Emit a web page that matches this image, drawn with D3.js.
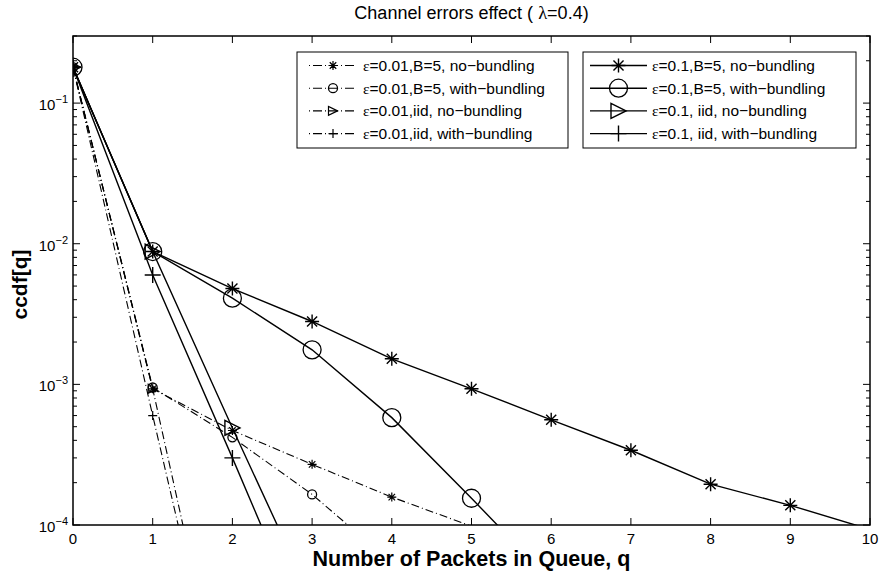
<!DOCTYPE html>
<html lang="en">
<head>
<meta charset="utf-8">
<title>Channel errors effect</title>
<script src="https://d3js.org/d3.v7.min.js"></script>
<style>
  body { margin: 0; background: #fff; }
  text { font-family: "Liberation Sans", Arial, sans-serif; fill: #000; }
</style>
</head>
<body>
<svg id="chart"></svg>
<script>

// queue length q
var queueLen = [0,1,2,3,4,5,6,7,8,9,10];

// eps = 0.01
var e001B5NoBundle   = [0.18, 0.00093, 0.00047, 0.00027, 0.000158, 0.000098];
var e001B5WithBundle = [0.18, 0.00095, 0.00042, 0.000165, 0.000054];
var e001IidNoBundle  = [0.18, 0.00093, 0.0000026];
var e001IidWithBundle= [0.18, 0.0006, 0.0000022];

// eps = 0.1
var e01B5NoBundle    = [0.18, 0.0088, 0.0048, 0.0028, 0.00152, 0.00093, 0.00056, 0.00034, 0.000195, 0.000138, 0.000093];
var e01B5WithBundle  = [0.18, 0.0088, 0.0041, 0.00176, 0.00058, 0.000155, 0.00004];
var e01IidNoBundle   = [0.18, 0.0088, 0.00049, 0.000029];
var e01IidWithBundle = [0.18, 0.006, 0.0003, 0.000014];

var seriesNames = [
  "\u03b5=0.01,B=5, no\u2212bundling",
  "\u03b5=0.01,B=5, with\u2212bundling",
  "\u03b5=0.01,iid, no\u2212bundling",
  "\u03b5=0.01,iid, with\u2212bundling",
  "\u03b5=0.1,B=5, no\u2212bundling",
  "\u03b5=0.1,B=5, with\u2212bundling",
  "\u03b5=0.1, iid, no\u2212bundling",
  "\u03b5=0.1, iid, with\u2212bundling"
];

var xTicks = [0,1,2,3,4,5,6,7,8,9,10];
var yTicks = [1e-4, 1e-3, 1e-2, 1e-1];
var yExp = ["\u22124", "\u22123", "\u22122", "\u22121"];

var width = 880, height = 572;
var border = {left:73, right:10, top:36, bottom:47};

var svg = d3.select("#chart").attr("width", width).attr("height", height);

var xScale = d3.scaleLinear().domain([0,10]).range([border.left, width-border.right]);
var yScale = d3.scaleLog().domain([1e-4, 0.3]).range([height-border.bottom, border.top]);

// marker shapes
function markerPath(type, s) {
  if (type == "star") {
    var d = s*0.72;
    return "M"+(-s)+",0L"+s+",0M0,"+(-s)+"L0,"+s+
      "M"+(-d)+","+(-d)+"L"+d+","+d+"M"+(-d)+","+d+"L"+d+","+(-d);
  }
  if (type == "plus") return "M"+(-s)+",0L"+s+",0M0,"+(-s)+"L0,"+s;
  if (type == "tri") return "M"+s+",0L"+(-s)+","+(-s)+"L"+(-s)+","+s+"Z";
  return null;
}

var series = [
  {values:e001B5NoBundle,    marker:"star",   small:true},
  {values:e001B5WithBundle,  marker:"circle", small:true},
  {values:e001IidNoBundle,   marker:"tri",    small:true},
  {values:e001IidWithBundle, marker:"plus",   small:true},
  {values:e01B5NoBundle,     marker:"star",   small:false},
  {values:e01B5WithBundle,   marker:"circle", small:false},
  {values:e01IidNoBundle,    marker:"tri",    small:false},
  {values:e01IidWithBundle,  marker:"plus",   small:false}
];
series.forEach(function(s,i){ s.name = seriesNames[i]; });

function markerSize(s) {
  if (s.marker == "circle") return s.small ? 4.5 : 9;
  if (s.marker == "star") return s.small ? 4.5 : 7;
  if (s.marker == "plus") return s.small ? 4.5 : 8;
  return s.small ? 4.5 : 7.5;
}

function drawMarker(g, s) {
  var r = markerSize(s);
  if (s.marker == "circle") {
    g.append("circle").attr("r", r).attr("fill","none").attr("stroke","#000").attr("stroke-width",1.3);
  } else {
    g.append("path").attr("d", markerPath(s.marker, r)).attr("fill","none")
      .attr("stroke","#000").attr("stroke-width", s.small ? 1.2 : 1.4);
  }
}

svg.append("clipPath").attr("id","plotClip")
  .append("rect")
  .attr("x", border.left).attr("y", border.top)
  .attr("width", width-border.left-border.right)
  .attr("height", height-border.top-border.bottom);

var plot = svg.append("g").attr("clip-path","url(#plotClip)");

var line = d3.line()
  .x(function(d,i){ return xScale(queueLen[i]); })
  .y(function(d){ return yScale(d); });

series.forEach(function(s){
  plot.append("path")
    .attr("d", line(s.values))
    .attr("fill","none")
    .attr("stroke","#000")
    .attr("stroke-width", s.small ? 1.1 : 1.4)
    .attr("stroke-dasharray", s.small ? "8,3,1,3" : null);
});

series.forEach(function(s){
  s.values.forEach(function(v,i){
    if (v < 1e-4) return;
    var g = plot.append("g")
      .attr("transform","translate("+xScale(queueLen[i])+","+yScale(v)+")");
    drawMarker(g, s);
  });
});

// axes box
var x0 = border.left, x1 = width-border.right, y0 = border.top, y1 = height-border.bottom;
svg.append("rect").attr("x",x0).attr("y",y0).attr("width",x1-x0).attr("height",y1-y0)
  .attr("fill","none").attr("stroke","#000").attr("stroke-width",1.5);

var ticks = svg.append("g").attr("stroke","#000").attr("stroke-width",1);
xTicks.forEach(function(t){
  var x = xScale(t);
  ticks.append("line").attr("x1",x).attr("x2",x).attr("y1",y1).attr("y2",y1-7);
  ticks.append("line").attr("x1",x).attr("x2",x).attr("y1",y0).attr("y2",y0+7);
  svg.append("text").attr("x",x).attr("y",y1+19).attr("text-anchor","middle")
    .attr("font-size",15).text(t);
});

// log minor ticks
yScale.ticks().forEach(function(t){
  var y = yScale(t);
  var major = yTicks.indexOf(t) >= 0;
  var len = major ? 7 : 4;
  ticks.append("line").attr("x1",x0).attr("x2",x0+len).attr("y1",y).attr("y2",y);
  ticks.append("line").attr("x1",x1).attr("x2",x1-len).attr("y1",y).attr("y2",y);
});

yTicks.forEach(function(t,i){
  var lbl = svg.append("text").attr("x",x0-5).attr("y",yScale(t)+7)
    .attr("text-anchor","end").attr("font-size",15);
  lbl.append("tspan").text("10");
  lbl.append("tspan").attr("font-size",11).attr("dy",-7).text(yExp[i]);
});

// titles
var title = svg.append("text").attr("x",(x0+x1)/2).attr("y",19)
  .attr("text-anchor","middle").attr("font-size",18);
title.append("tspan").text("Channel errors effect ( ");
title.append("tspan").attr("font-family","Liberation Serif").attr("font-size",18.5).text("\u03bb");
title.append("tspan").text("=0.4)");

svg.append("text").attr("x",(x0+x1)/2).attr("y",566).attr("text-anchor","middle")
  .attr("font-size",21.5).attr("font-weight","bold").text("Number of Packets in Queue, q");

svg.append("text").attr("transform","translate(27,"+((y0+y1)/2+4)+") rotate(-90)")
  .attr("text-anchor","middle").attr("font-size",21).attr("font-weight","bold").text("ccdf[q]");

// legends
function legendBox(items, bx, by, bw, sampleX0, sampleX1, textX) {
  var g = svg.append("g");
  g.append("rect").attr("x",bx).attr("y",by).attr("width",bw).attr("height",96)
    .attr("fill","#fff").attr("stroke","#000").attr("stroke-width",1);
  items.forEach(function(s,i){
    var y = by + 13.5 + i*22.7;
    g.append("line").attr("x1",sampleX0).attr("x2",sampleX1).attr("y1",y).attr("y2",y)
      .attr("stroke","#000").attr("stroke-width", s.small ? 1.1 : 1.4)
      .attr("stroke-dasharray", s.small ? "1,3,9,3" : null);
    var mg = g.append("g").attr("transform","translate("+((sampleX0+sampleX1)/2)+","+y+")");
    drawMarker(mg, s);
    var tx = g.append("text").attr("x",textX).attr("y",y+5.5).attr("font-size",15.5);
    tx.append("tspan").attr("font-family","Liberation Serif").text(s.name.charAt(0));
    tx.append("tspan").text(s.name.slice(1));
  });
}
legendBox(series.slice(0,4), 297, 52, 271, 309, 357, 363);
legendBox(series.slice(4), 583, 52, 273, 590, 647, 652);

</script>
</body>
</html>
